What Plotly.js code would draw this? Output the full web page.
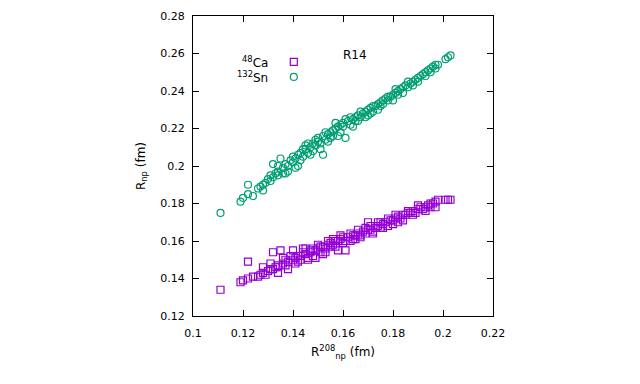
<!DOCTYPE html>
<html>
<head>
<meta charset="utf-8">
<script src="https://cdn.plot.ly/plotly-3.0.1.min.js"></script>
<style>
  html, body { margin: 0; padding: 0; background: #fff; }
  #plot { width: 640px; height: 384px; }
</style>
</head>
<body>
<div id="plot"></div>
<script>
// R^208_np of each model (fm)
var r208 = [
  0.111, 0.119, 0.120, 0.122, 0.122, 0.124, 0.126, 0.127, 0.128, 0.129,
  0.130, 0.131, 0.132, 0.132, 0.133, 0.134, 0.134, 0.135, 0.136, 0.137,
  0.137, 0.138, 0.139, 0.140, 0.140, 0.141, 0.141, 0.142, 0.143, 0.143,
  0.144, 0.145, 0.145, 0.146, 0.147, 0.148, 0.148, 0.149, 0.150, 0.150,
  0.151, 0.152, 0.152, 0.153, 0.154, 0.155, 0.155, 0.156, 0.157, 0.158,
  0.158, 0.159, 0.160, 0.160, 0.161, 0.162, 0.163, 0.164, 0.165, 0.165,
  0.166, 0.167, 0.168, 0.169, 0.170, 0.170, 0.171, 0.172, 0.173, 0.174,
  0.175, 0.175, 0.176, 0.177, 0.178, 0.179, 0.180, 0.181, 0.182, 0.182,
  0.183, 0.184, 0.185, 0.186, 0.187, 0.188, 0.189, 0.190, 0.191, 0.192,
  0.193, 0.194, 0.195, 0.196, 0.197, 0.197, 0.198, 0.201, 0.202, 0.203,
  0.138, 0.142, 0.144, 0.146, 0.147, 0.149, 0.151, 0.153, 0.154, 0.156,
  0.157, 0.159, 0.161, 0.163, 0.164, 0.166, 0.167, 0.169, 0.171, 0.172,
  0.174, 0.176, 0.178, 0.180, 0.181, 0.184, 0.186, 0.188, 0.190, 0.193,
  0.195, 0.131, 0.134, 0.136, 0.128
];

// R_np of 48Ca (fm)
var rCa = [
  0.134, 0.138, 0.139, 0.140, 0.149, 0.141, 0.141, 0.142, 0.143, 0.142,
  0.144, 0.145, 0.154, 0.145, 0.146, 0.147, 0.146, 0.155, 0.148, 0.147,
  0.150, 0.149, 0.152, 0.155, 0.150, 0.151, 0.148, 0.152, 0.152, 0.150,
  0.154, 0.153, 0.156, 0.151, 0.155, 0.156, 0.152, 0.155, 0.156, 0.158,
  0.154, 0.157, 0.153, 0.156, 0.158, 0.159, 0.157, 0.158, 0.160, 0.155,
  0.160, 0.161, 0.159, 0.162, 0.155, 0.162, 0.160, 0.163, 0.161, 0.163,
  0.164, 0.162, 0.165, 0.164, 0.170, 0.166, 0.166, 0.165, 0.167, 0.168,
  0.170, 0.167, 0.169, 0.170, 0.168, 0.171, 0.171, 0.172, 0.173, 0.170,
  0.172, 0.174, 0.174, 0.175, 0.175, 0.176, 0.175, 0.177, 0.178, 0.177,
  0.178, 0.179, 0.180, 0.180, 0.181, 0.178, 0.182, 0.182, 0.182, 0.182,
  0.145, 0.149, 0.156, 0.150, 0.154, 0.151, 0.157, 0.154, 0.160, 0.161,
  0.157, 0.163, 0.160, 0.164, 0.161, 0.166, 0.163, 0.167, 0.168, 0.164,
  0.170, 0.167, 0.172, 0.169, 0.174, 0.171, 0.176, 0.174, 0.179, 0.176,
  0.178, 0.148, 0.143, 0.151, 0.146
];

// R_np of 132Sn (fm)
var rSn = [
  0.175, 0.181, 0.183, 0.185, 0.190, 0.184, 0.188, 0.189, 0.190, 0.191,
  0.193, 0.192, 0.201, 0.194, 0.196, 0.197, 0.195, 0.204, 0.199, 0.196,
  0.201, 0.200, 0.203, 0.205, 0.202, 0.204, 0.199, 0.206, 0.207, 0.203,
  0.205, 0.209, 0.211, 0.207, 0.210, 0.212, 0.208, 0.211, 0.213, 0.215,
  0.212, 0.216, 0.206, 0.214, 0.217, 0.218, 0.215, 0.219, 0.220, 0.216,
  0.221, 0.222, 0.221, 0.223, 0.215, 0.224, 0.222, 0.225, 0.226, 0.224,
  0.227, 0.226, 0.228, 0.229, 0.227, 0.230, 0.231, 0.229, 0.232, 0.233,
  0.232, 0.234, 0.235, 0.236, 0.235, 0.237, 0.238, 0.239, 0.240, 0.238,
  0.241, 0.242, 0.243, 0.242, 0.244, 0.245, 0.246, 0.247, 0.248, 0.249,
  0.250, 0.251, 0.252, 0.253, 0.254, 0.252, 0.254, 0.257, 0.258, 0.259,
  0.197, 0.200, 0.209, 0.212, 0.206, 0.214, 0.209, 0.218, 0.213, 0.216,
  0.223, 0.218, 0.225, 0.226, 0.221, 0.224, 0.229, 0.226, 0.228, 0.232,
  0.230, 0.233, 0.237, 0.235, 0.241, 0.239, 0.245, 0.243, 0.245, 0.248,
  0.250, 0.195, 0.200, 0.196, 0.187
];

var purple = '#9400d3';
var green = '#009e73';

var traceCa = {
  x: r208,
  y: rCa,
  name: '<sup>48</sup>Ca',
  mode: 'markers',
  type: 'scatter',
  marker: {symbol: 'square-open', size: 7, color: purple, line: {width: 1.2}}
};

var traceSn = {
  x: r208,
  y: rSn,
  name: '<sup>132</sup>Sn',
  mode: 'markers',
  type: 'scatter',
  marker: {symbol: 'circle-open', size: 7, color: green, line: {width: 1.2}}
};

var axisStyle = {
  showline: true,
  linecolor: '#000',
  linewidth: 1,
  mirror: 'ticks',
  ticks: 'inside',
  ticklen: 6,
  tickcolor: '#000',
  showgrid: false,
  zeroline: false,
  tickfont: {family: 'DejaVu Sans', size: 11, color: '#000'}
};

var layout = {
  width: 640,
  height: 384,
  margin: {l: 193, r: 147, t: 16, b: 68},
  paper_bgcolor: '#fff',
  plot_bgcolor: '#fff',
  showlegend: false,
  font: {family: 'DejaVu Sans', size: 12, color: '#000'},
  xaxis: Object.assign({}, axisStyle, {
    range: [0.1, 0.22],
    dtick: 0.02,
    tick0: 0.1,
    ticklabelstandoff: 7,
    title: {text: 'R<sup>208</sup><sub>np</sub> (fm)', standoff: 8,
            font: {family: 'DejaVu Sans', size: 12}}
  }),
  yaxis: Object.assign({}, axisStyle, {
    range: [0.12, 0.28],
    dtick: 0.02,
    tick0: 0.12,
    ticklabelstandoff: 5,
    title: {text: 'R<sub>np</sub> (fm)', standoff: 12,
            font: {family: 'DejaVu Sans', size: 12}}
  }),
  annotations: [
    {xref: 'paper', yref: 'paper', x: 0.256, y: 0.847, xanchor: 'right', yanchor: 'middle',
     text: '<sup>48</sup>Ca', showarrow: false, font: {family: 'DejaVu Sans', size: 12}},
    {xref: 'paper', yref: 'paper', x: 0.256, y: 0.797, xanchor: 'right', yanchor: 'middle',
     text: '<sup>132</sup>Sn', showarrow: false, font: {family: 'DejaVu Sans', size: 12}},
    {xref: 'paper', yref: 'paper', x: 0.539, y: 0.87, xanchor: 'center', yanchor: 'middle',
     text: 'R14', showarrow: false, font: {family: 'DejaVu Sans', size: 12}}
  ],
  shapes: [
    {type: 'rect', xref: 'paper', yref: 'paper', xsizemode: 'pixel', ysizemode: 'pixel',
     xanchor: 0.336, yanchor: 0.847, x0: -3.5, x1: 3.5, y0: -3.5, y1: 3.5,
     line: {color: purple, width: 1.2}},
    {type: 'circle', xref: 'paper', yref: 'paper', xsizemode: 'pixel', ysizemode: 'pixel',
     xanchor: 0.336, yanchor: 0.797, x0: -3.5, x1: 3.5, y0: -3.5, y1: 3.5,
     line: {color: green, width: 1.2}}
  ]
};

Plotly.newPlot('plot', [traceCa, traceSn], layout, {displayModeBar: false});
</script>
</body>
</html>
